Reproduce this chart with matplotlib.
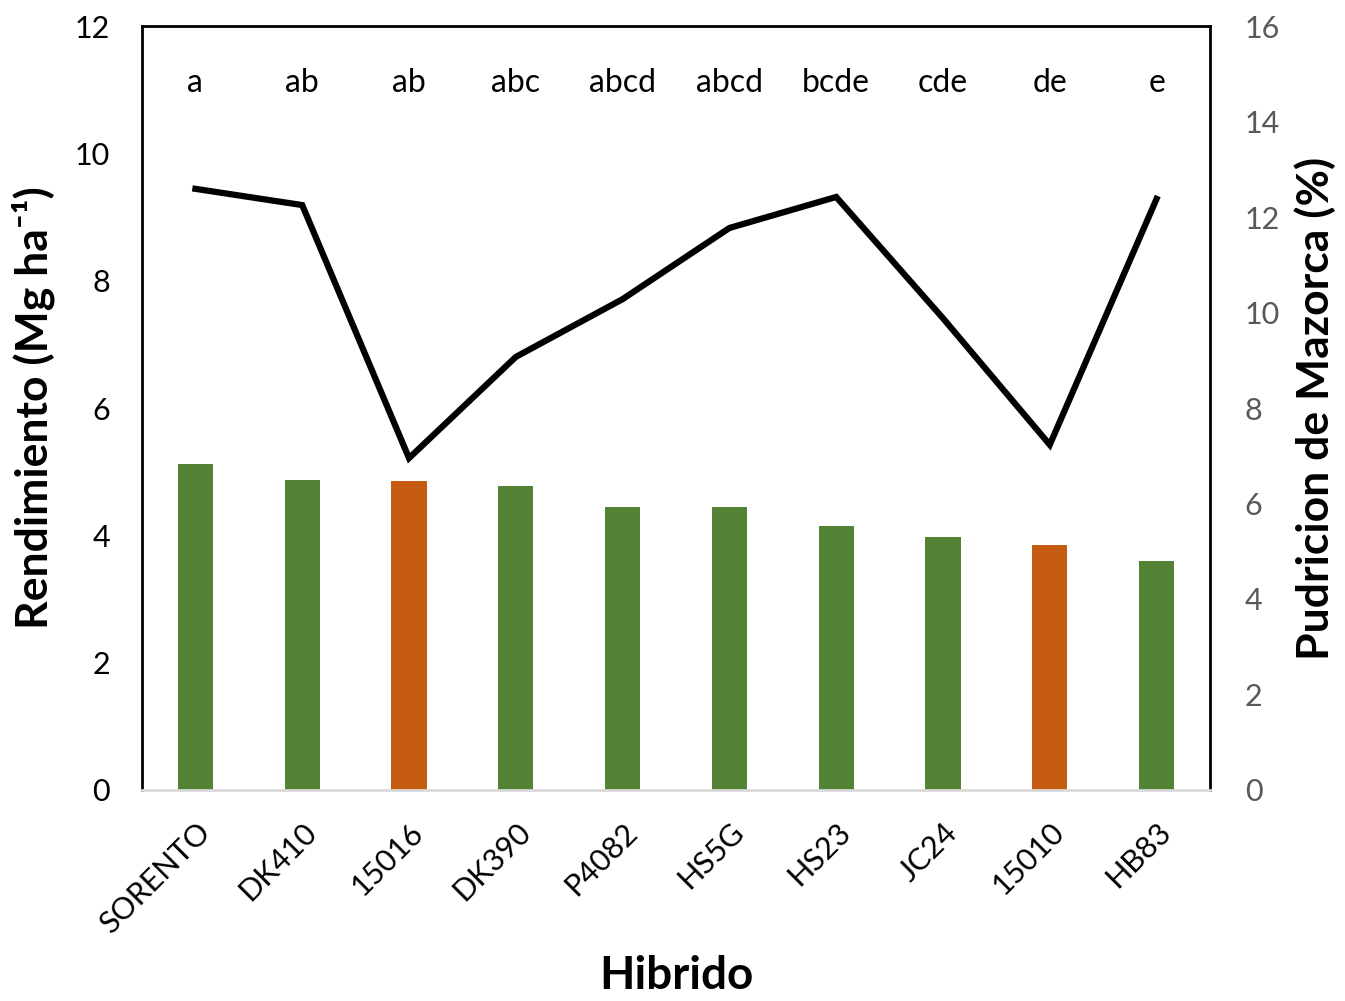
import matplotlib
matplotlib.use("Agg")
import matplotlib.pyplot as plt
import numpy as np

hibridos = ["SORENTO", "DK410", "15016", "DK390", "P4082", "HS5G", "HS23", "JC24", "15010", "HB83"]
rendimiento = [5.12, 4.87, 4.85, 4.77, 4.44, 4.44, 4.15, 3.97, 3.85, 3.60]
pudricion = [12.59, 12.25, 6.95, 9.07, 10.28, 11.77, 12.42, 9.88, 7.23, 12.38]
letras = ["a", "ab", "ab", "abc", "abcd", "abcd", "bcde", "cde", "de", "e"]
colores = ["#548235", "#548235", "#C55A11", "#548235", "#548235", "#548235", "#548235", "#548235", "#C55A11", "#548235"]

plt.rcParams['font.family'] = ['Lato', 'DejaVu Sans']

fig = plt.figure(figsize=(13.45, 10.01), dpi=100)
ax = fig.add_axes([0.1056, 0.2108, 0.794, 0.7632])
x = np.arange(len(hibridos))
ax.bar(x, rendimiento, width=0.33, color=colores, zorder=2)
ax.set_xlim(-0.5, len(hibridos) - 0.5)
ax.set_ylim(0, 12)
ax.set_yticks(range(0, 13, 2))
ax.tick_params(axis='y', length=0, labelsize=22, colors='black', pad=23)
ax.tick_params(axis='x', length=0, labelsize=22, pad=20)
ax.set_xticks(x)
ax.set_xticklabels(hibridos, rotation=45, ha='right', rotation_mode='anchor')
for s in ['left', 'top', 'right']:
    ax.spines[s].set_color('black')
    ax.spines[s].set_linewidth(2)
ax.spines['bottom'].set_color('#D9D9D9')
ax.spines['bottom'].set_linewidth(2)

for xi, l in zip(x, letras):
    ax.text(xi, 11.1, l, ha='center', va='center', fontsize=23)

ax.set_ylabel("Rendimiento (Mg ha\u207b\u00b9)", fontsize=32, fontweight='bold', labelpad=14)
ax.set_xlabel("Hibrido", fontsize=33, fontweight='bold', labelpad=12)

ax2 = ax.twinx()
ax2.plot(x, pudricion, color='black', linewidth=4.5, zorder=3, solid_joinstyle='miter')
ax2.set_ylim(0, 16)
ax2.set_yticks(range(0, 17, 2))
ax2.tick_params(axis='y', length=0, labelsize=22, colors='#595959', pad=25)
for s in ax2.spines.values():
    s.set_visible(False)
ax2.set_ylabel("Pudricion de Mazorca (%)", fontsize=32, fontweight='bold', labelpad=10)

fig.savefig("out.png", dpi=100)
